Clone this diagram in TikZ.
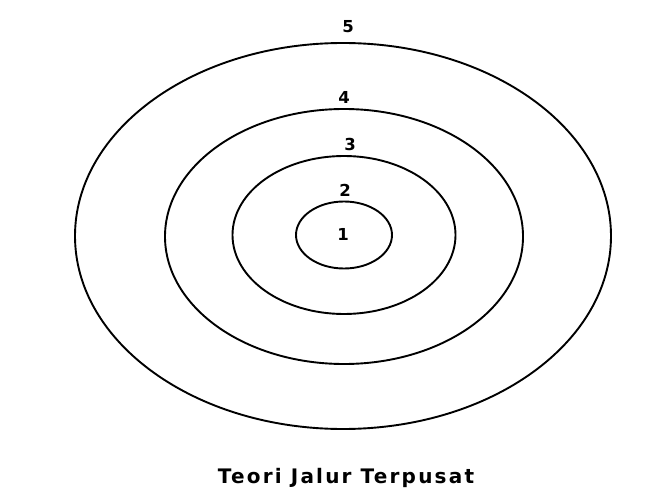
\documentclass[tikz,border=0pt]{standalone}
\usepackage{fontspec}
\setsansfont{DejaVu Sans}
\newfontfamily\captionfont[LetterSpace=11]{DejaVu Sans}

\begin{document}
\begin{tikzpicture}[
  x=1pt, y=-1pt,
  font=\sffamily\bfseries\fontsize{16.5}{20}\selectfont,
  ring/.style={line width=1.9pt},
  label/.style={inner sep=0pt},
  title/.style={inner sep=0pt, anchor=base, font=\captionfont\bfseries\fontsize{20}{24}\selectfont}
]

\useasboundingbox[fill=white] (0,0) rectangle (656,500);

\coordinate (center) at (344,235);

\draw[ring] (center) ellipse [x radius=48, y radius=33.5];
\draw[ring] (center) ellipse [x radius=111.5, y radius=79];
\draw[ring] (344,236.5) ellipse [x radius=179, y radius=127.5];
\draw[ring] (343,236) ellipse [x radius=268, y radius=193];

\node[label] (one) at (343,234) {1};
\node[label] (two) at (345,190) {2};
\node[label] (three) at (350,144) {3};
\node[label] (four) at (344,97) {4};
\node[label] (five) at (348,27) {5};

\node[title] (caption) at (346,483.5) {Teori Jalur Terpusat};

\end{tikzpicture}
\end{document}
